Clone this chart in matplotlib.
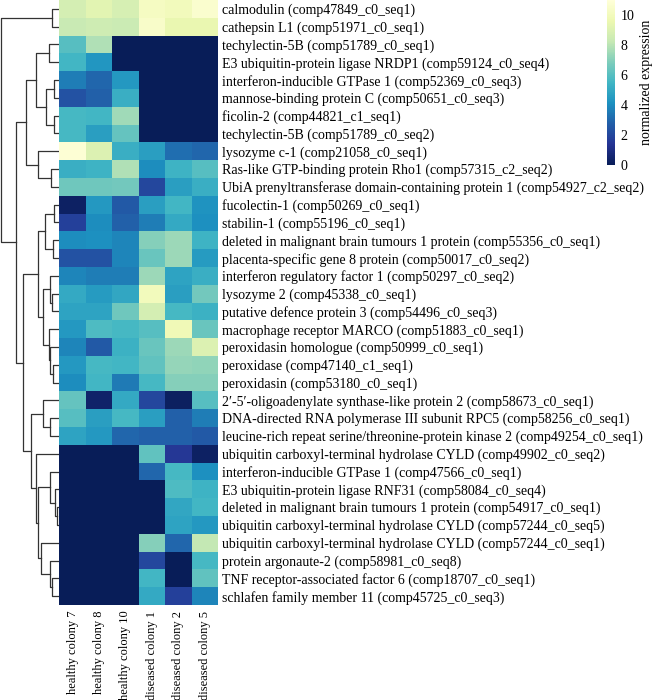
import numpy as np
import matplotlib
matplotlib.use("Agg")
import matplotlib.pyplot as plt

plt.rcParams["font.family"] = ["Liberation Serif", "DejaVu Serif"]

genes = [
    "calmodulin (comp47849_c0_seq1)",
    "cathepsin L1 (comp51971_c0_seq1)",
    "techylectin-5B (comp51789_c0_seq1)",
    "E3 ubiquitin-protein ligase NRDP1 (comp59124_c0_seq4)",
    "interferon-inducible GTPase 1 (comp52369_c0_seq3)",
    "mannose-binding protein C (comp50651_c0_seq3)",
    "ficolin-2 (comp44821_c1_seq1)",
    "techylectin-5B (comp51789_c0_seq2)",
    "lysozyme c-1 (comp21058_c0_seq1)",
    "Ras-like GTP-binding protein Rho1 (comp57315_c2_seq2)",
    "UbiA prenyltransferase domain-containing protein 1 (comp54927_c2_seq2)",
    "fucolectin-1 (comp50269_c0_seq1)",
    "stabilin-1 (comp55196_c0_seq1)",
    "deleted in malignant brain tumours 1 protein (comp55356_c0_seq1)",
    "placenta-specific gene 8 protein (comp50017_c0_seq2)",
    "interferon regulatory factor 1 (comp50297_c0_seq2)",
    "lysozyme 2 (comp45338_c0_seq1)",
    "putative defence protein 3 (comp54496_c0_seq3)",
    "macrophage receptor MARCO (comp51883_c0_seq1)",
    "peroxidasin homologue (comp50999_c0_seq1)",
    "peroxidase (comp47140_c1_seq1)",
    "peroxidasin (comp53180_c0_seq1)",
    "2\u2032-5\u2032-oligoadenylate synthase-like protein 2 (comp58673_c0_seq1)",
    "DNA-directed RNA polymerase III subunit RPC5 (comp58256_c0_seq1)",
    "leucine-rich repeat serine/threonine-protein kinase 2 (comp49254_c0_seq1)",
    "ubiquitin carboxyl-terminal hydrolase CYLD (comp49902_c0_seq2)",
    "interferon-inducible GTPase 1 (comp47566_c0_seq1)",
    "E3 ubiquitin-protein ligase RNF31 (comp58084_c0_seq4)",
    "deleted in malignant brain tumours 1 protein (comp54917_c0_seq1)",
    "ubiquitin carboxyl-terminal hydrolase CYLD (comp57244_c0_seq5)",
    "ubiquitin carboxyl-terminal hydrolase CYLD (comp57244_c0_seq1)",
    "protein argonaute-2 (comp58981_c0_seq8)",
    "TNF receptor-associated factor 6 (comp18707_c0_seq1)",
    "schlafen family member 11 (comp45725_c0_seq3)",
]

samples = ["healthy colony 7", "healthy colony 8", "healthy colony 10",
           "diseased colony 1", "diseased colony 2", "diseased colony 5"]

# normalized expression, one row per gene, columns as in samples
expression = np.array([
    [8.7, 9.2, 8.8, 10.2, 10.0, 10.6],
    [8.3, 8.5, 8.4, 10.4, 9.5, 9.5],
    [6.0, 7.8, 0.0, 0.0, 0.0, 0.0],
    [5.5, 4.3, 0.0, 0.0, 0.0, 0.0],
    [3.6, 3.0, 4.4, 0.0, 0.0, 0.0],
    [2.4, 2.8, 5.2, 0.0, 0.0, 0.0],
    [5.6, 5.5, 7.5, 0.0, 0.0, 0.0],
    [5.6, 4.6, 6.3, 0.0, 0.0, 0.0],
    [10.8, 9.0, 5.2, 4.6, 3.2, 3.0],
    [5.2, 5.4, 7.8, 4.0, 5.4, 6.0],
    [6.5, 6.5, 6.6, 2.0, 4.6, 5.2],
    [0.3, 4.4, 2.6, 4.6, 5.5, 4.2],
    [1.8, 4.0, 2.8, 3.6, 5.0, 4.1],
    [4.0, 4.1, 3.8, 7.0, 7.4, 5.4],
    [2.4, 2.4, 3.8, 6.4, 7.4, 4.5],
    [3.8, 3.6, 3.6, 7.4, 4.8, 5.2],
    [5.0, 4.5, 4.9, 10.0, 4.6, 6.6],
    [4.8, 4.8, 6.5, 8.7, 5.6, 5.3],
    [4.4, 5.8, 5.6, 6.0, 9.8, 6.4],
    [3.8, 2.6, 5.3, 6.4, 7.4, 9.0],
    [4.4, 5.6, 5.5, 6.2, 7.3, 7.2],
    [4.0, 5.5, 3.5, 5.6, 7.0, 7.0],
    [6.3, 0.4, 5.0, 2.0, 0.2, 6.0],
    [6.0, 4.6, 5.6, 4.6, 2.8, 3.6],
    [4.8, 4.4, 3.0, 2.8, 2.8, 2.6],
    [0.0, 0.0, 0.0, 6.2, 1.5, 0.3],
    [0.0, 0.0, 0.0, 3.0, 5.6, 4.1],
    [0.0, 0.0, 0.0, 0.0, 5.8, 5.4],
    [0.0, 0.0, 0.0, 0.0, 4.9, 5.5],
    [0.0, 0.0, 0.0, 0.0, 4.8, 4.4],
    [0.0, 0.0, 0.0, 7.0, 3.0, 8.2],
    [0.0, 0.0, 0.0, 2.0, 0.0, 5.6],
    [0.0, 0.0, 0.0, 5.5, 0.0, 6.2],
    [0.0, 0.0, 0.0, 5.0, 1.8, 3.8],
])

# row clustering, linkage style: (child a, child b, merge distance); new nodes numbered from 34
linkage = [
    (0, 1, 7), (2, 3, 10), (4, 5, 5), (6, 7, 5), (36, 37, 13), (35, 38, 23),
    (9, 10, 8), (8, 40, 21), (39, 41, 33), (11, 12, 5), (13, 14, 6), (43, 44, 14),
    (16, 17, 7), (15, 46, 9), (20, 21, 6), (19, 48, 9), (18, 49, 10), (47, 50, 16.3),
    (45, 51, 21.3), (23, 24, 9), (22, 53, 16.3), (28, 29, 2.3), (27, 55, 4),
    (26, 56, 9), (32, 33, 7.3), (31, 58, 9.7), (30, 59, 18), (57, 60, 21.3),
    (25, 61, 23), (54, 62, 28), (52, 63, 36.3), (42, 64, 43), (34, 65, 58),
]

W, H = 652, 700
fig = plt.figure(figsize=(W / 100, H / 100), dpi=100)

hm_left, hm_right, hm_bottom = 59.3, 218.0, 605.0
ax_den = fig.add_axes([0, 1 - hm_bottom / H, hm_left / W, hm_bottom / H])
ax = fig.add_axes([hm_left / W, 1 - hm_bottom / H, (hm_right - hm_left) / W, hm_bottom / H])
cax = fig.add_axes([607 / W, 1 - 165 / H, 8 / W, 165 / H])

n = len(genes)
mesh = ax.pcolormesh(np.arange(len(samples) + 1), np.arange(n + 1), expression,
                     cmap="YlGnBu_r", vmin=0, vmax=11)
ax.set_xlim(0, len(samples))
ax.set_ylim(n, 0)
ax.set_yticks(np.arange(n) + 0.5)
ax.set_yticklabels(genes, fontsize=10)
ax.yaxis.tick_right()
ax.set_xticks(np.arange(len(samples)) + 0.5)
ax.set_xticklabels(samples, rotation=90, fontsize=9, va="top")
ax.tick_params(axis="y", length=0, pad=3)
ax.tick_params(axis="x", length=0, pad=4)
for s in ax.spines.values():
    s.set_visible(False)

# dendrogram
pos = {i: (i + 0.5, 0.0) for i in range(n)}
for k, (a, b, h) in enumerate(linkage):
    ya, ha = pos[a]
    yb, hb = pos[b]
    ax_den.plot([ha, h, h, hb], [ya, ya, yb, yb], color="#333333", lw=0.9)
    pos[n + k] = ((ya + yb) / 2, h)
ax_den.set_xlim(hm_left, 0)
ax_den.set_ylim(n, 0)
ax_den.axis("off")

cb = fig.colorbar(mesh, cax=cax, ticks=[0, 2, 4, 6, 8, 10])
cb.outline.set_visible(False)
cb.ax.tick_params(length=0, labelsize=10, pad=4)
cb.set_label("normalized expression", fontsize=10, labelpad=4)

fig.savefig("out.png", dpi=100)
